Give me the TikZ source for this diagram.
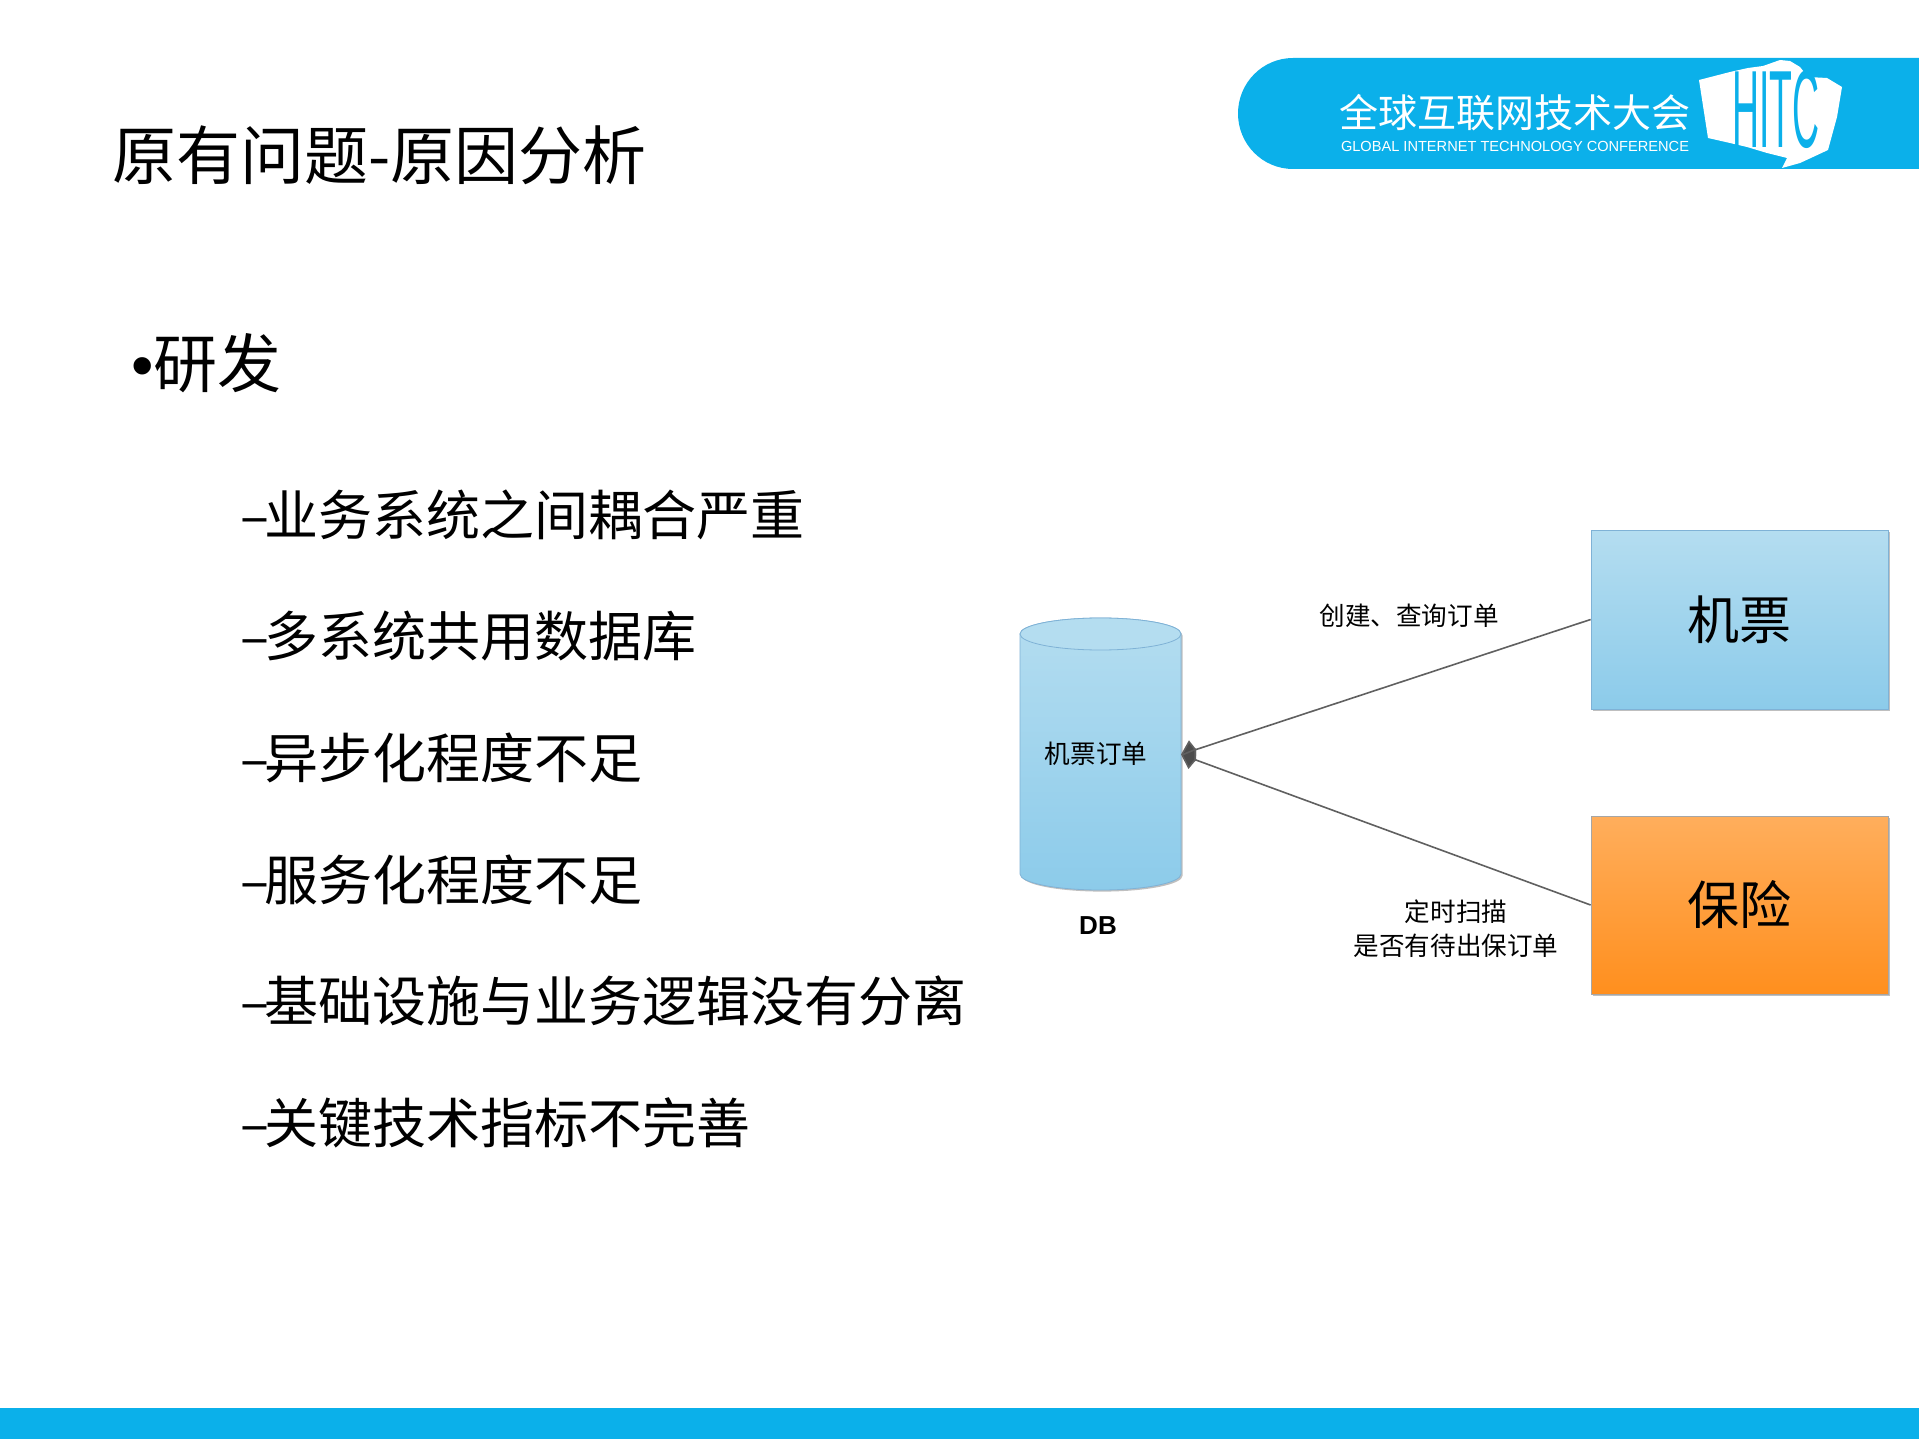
\documentclass[tikz,border=0pt]{standalone}
\usepackage{fontspec}
\setmainfont{Noto Sans CJK SC}
\newfontfamily\latinfont{Liberation Sans}
\usetikzlibrary{shapes.geometric,arrows.meta,shadows}

\definecolor{hitcblue}{HTML}{0BB0EA}
\definecolor{boxline}{HTML}{7FB2D6}
\definecolor{boxlight}{HTML}{B4DDF0}
\definecolor{boxdark}{HTML}{8CCBEA}
\definecolor{orangelight}{HTML}{FFAE5C}
\definecolor{orangedark}{HTML}{FF8F1E}

\tikzset{
  titletext/.style={anchor=west,inner sep=0pt,font=\fontsize{32}{32}\selectfont},
  bullettext/.style={anchor=west,inner sep=0pt,font=\fontsize{32}{32}\selectfont},
  itemtext/.style={anchor=west,inner sep=0pt,font=\fontsize{27}{27}\selectfont},
  smalltext/.style={align=center,inner sep=0pt,font=\fontsize{12.8}{17}\selectfont},
  softshadow/.style={drop shadow={shadow xshift=0.8pt,shadow yshift=-0.8pt,opacity=0.25,fill=black}},
  bluebox/.style={draw=boxline,top color=boxlight,bottom color=boxdark,softshadow,minimum width=148.5pt,minimum height=89.5pt,inner sep=0pt,font=\fontsize{26}{26}\selectfont},
  orangebox/.style={draw=gray!70,top color=orangelight,bottom color=orangedark,softshadow,minimum width=148.5pt,minimum height=89pt,inner sep=0pt,font=\fontsize{26}{26}\selectfont},
  link/.style={draw=gray!75!black,line width=0.8pt,-{Kite[length=8pt,width=11pt,inset=2pt,fill=black!70]}}
}

\begin{document}
\begin{tikzpicture}[x=0.5pt,y=-0.5pt]
  \useasboundingbox (0,0) rectangle (1919,1439);
  \fill[white] (0,0) rectangle (1919,1439);

  % Bottom bar and banner
  \fill[hitcblue] (0,1408) rectangle (1919,1439);
  \fill[hitcblue] (1919,58) -- (1293,58) arc[start angle=-90,end angle=-270,x radius=55,y radius=55.5] -- (1919,169) -- cycle;

  % Logo
  \node[anchor=center,inner sep=0pt,text=white,font=\fontsize{19.5}{19.5}\selectfont] (logotext) at (1515,113) {全球互联网技术大会};
  \node[anchor=center,inner sep=0pt,text=white,font=\latinfont\fontsize{7.3}{7.3}\selectfont] (logosub) at (1515,146) {GLOBAL INTERNET TECHNOLOGY CONFERENCE};
  \fill[white] (1699,80) -- (1730,72) -- (1748,68) -- (1763,66) -- (1780,60) -- (1790,61) -- (1800,67) -- (1808,77) -- (1827,78) -- (1842,87) -- (1837,117) -- (1828,150) -- (1813,157) -- (1800,163) -- (1782,168) -- (1787,158) -- (1767,153) -- (1747,147) -- (1730,143) -- (1708,138) -- cycle;
  \node[anchor=center,inner sep=0pt,text=hitcblue,xscale=0.34,font=\latinfont\fontsize{55}{55}\selectfont] (logomark) at (1776,110) {HITC};

  % Left column
  \node[titletext] (title) at (112,155) {原有问题-原因分析};
  \node[bullettext] (bullet) at (131,363) {{\latinfont •}研发};
  \node[itemtext] (itema) at (240,515) {–\kern-2.5pt 业务系统之间耦合严重};
  \node[itemtext] (itemb) at (240,636) {–\kern-2.5pt 多系统共用数据库};
  \node[itemtext] (itemc) at (240,758) {–\kern-2.5pt 异步化程度不足};
  \node[itemtext] (itemd) at (240,880) {–\kern-2.5pt 服务化程度不足};
  \node[itemtext] (iteme) at (240,1001) {–\kern-2.5pt 基础设施与业务逻辑没有分离};
  \node[itemtext] (itemf) at (240,1123) {–\kern-2.5pt 关键技术指标不完善};

  % Diagram
  \node[bluebox] (ticket) at (1739.5,619.5) {机票};
  \node[orangebox] (insurance) at (1739.5,905) {保险};
  \draw[boxline,top color=boxlight,bottom color=boxdark,softshadow] (1020,634) -- (1020,874) arc[start angle=180,end angle=0,x radius=80.5,y radius=16] -- (1181,634) arc[start angle=0,end angle=-180,x radius=80.5,y radius=16] -- cycle;
  \draw[boxline,fill=boxlight] (1100.5,634) ellipse[x radius=80.5,y radius=16];
  \node[minimum width=80.5pt,minimum height=136pt,inner sep=0pt,outer sep=0pt] (db) at (1100.5,754.5) {};
  \node[smalltext] (dblabel) at (1096,754) {机票订单};
  \node[inner sep=0pt,font=\latinfont\bfseries\fontsize{13}{13}\selectfont] (dbname) at (1098,926) {DB};
  \node[smalltext] (createlabel) at (1409,616) {创建、查询订单};
  \node[smalltext] (scanlabel) at (1456,929) {定时扫描\\是否有待出保订单};

  % Connectors
  \draw[link] (ticket.west) -- (db.east);
  \draw[link] (insurance.west) -- (db.east);
\end{tikzpicture}
\end{document}
